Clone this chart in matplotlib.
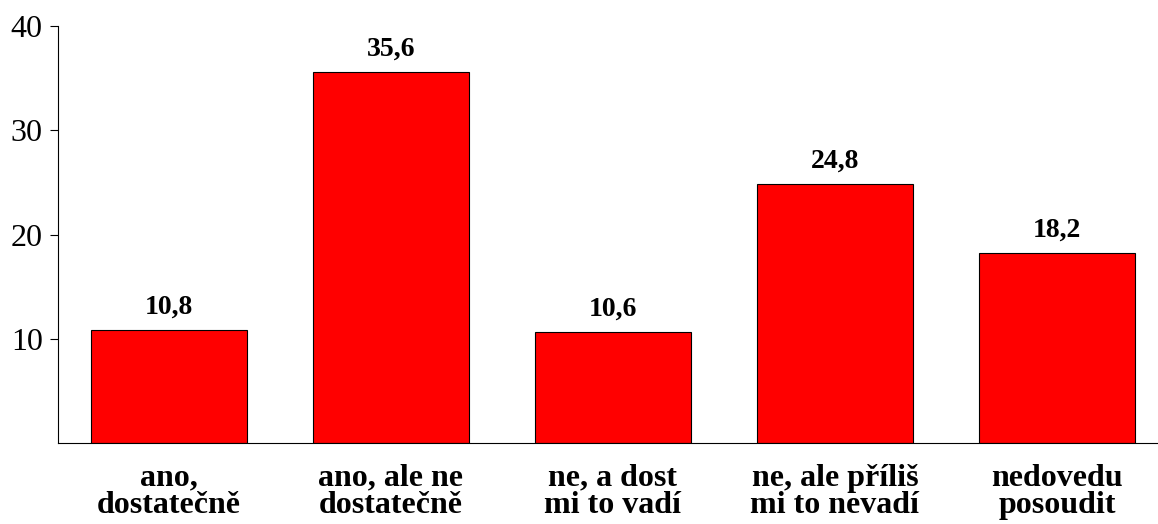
import matplotlib.pyplot as plt

# Data
categories = ["ano,\ndostatečně", "ano, ale ne\ndostatečně", "ne, a dost\nmi to vadí",
              "ne, ale příliš\nmi to nevadí", "nedovedu\nposoudit"]
values = [10.8, 35.6, 10.6, 24.8, 18.2]
value_labels = ["10,8", "35,6", "10,6", "24,8", "18,2"]

plt.rcParams['font.family'] = ['Liberation Serif', 'DejaVu Serif']

fig = plt.figure(figsize=(11.58, 5.24), dpi=100)
ax = fig.add_axes([58 / 1158, 81 / 524, 1110 / 1158, 417 / 524])

x = range(len(categories))
ax.bar(x, values, width=0.7, color='#ff0000', edgecolor='black', linewidth=0.8)

for i, v in enumerate(values):
    ax.annotate(value_labels[i], (i, v), xytext=(0, 12), textcoords='offset points',
                ha='center', va='baseline', fontsize=20, fontweight='bold')

ax.set_xlim(-0.5, 4.5)
ax.set_ylim(0, 40)
ax.set_yticks([10, 20, 30, 40])
ax.tick_params(axis='y', labelsize=23, length=6, width=0.8, direction='out', pad=5)
ax.set_xticks(list(x))
ax.set_xticklabels(categories, fontsize=23, fontweight='bold', linespacing=0.9)
ax.tick_params(axis='x', length=0, pad=15)

ax.spines['top'].set_visible(False)
ax.spines['right'].set_visible(False)

plt.savefig('out.png', dpi=100)
